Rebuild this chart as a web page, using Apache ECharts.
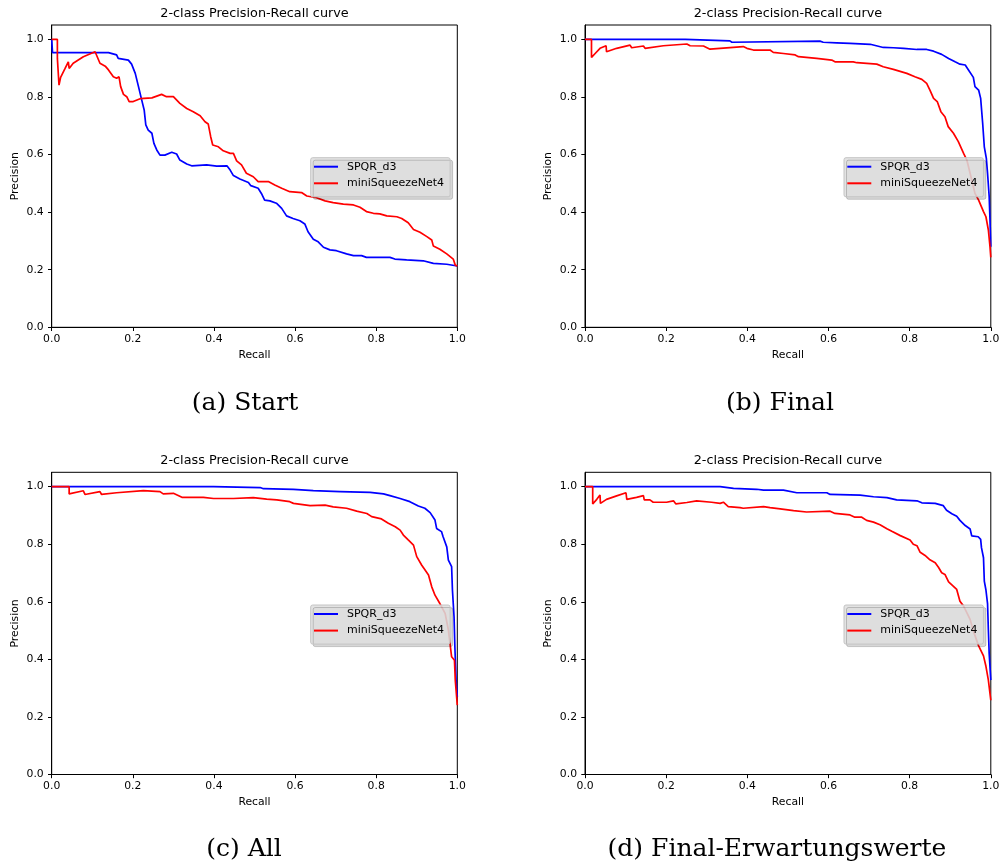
<!DOCTYPE html>
<html>
<head>
<meta charset="utf-8">
<script src="https://cdn.jsdelivr.net/npm/echarts@6/dist/echarts.min.js"></script>
<style>
html,body{margin:0;padding:0;background:#fff;}
#chart{width:1004px;height:867px;}
</style>
</head>
<body>
<div id="chart"></div>
<script>
// ---------- DATA ----------
const seriesNames = ['SPQR_d3', 'miniSqueezeNet4'];
const panelCaptions = ['(a) Start', '(b) Final', '(c) All', '(d) Final-Erwartungswerte'];
const chartTitle = '2-class Precision-Recall curve';
const xTicks = [0, 0.2, 0.4, 0.6, 0.8, 1.0];
const yTicks = [0, 0.2, 0.4, 0.6, 0.8, 1.0];

// (a) Start  [recall, precision]
const spqrStart = [[0,1.0],[0.002,0.954],[0.14,0.954],[0.16,0.946],[0.164,0.934],[0.189,0.928],[0.197,0.914],[0.206,0.882],[0.214,0.836],[0.222,0.789],[0.228,0.755],[0.232,0.703],[0.238,0.685],[0.247,0.674],[0.252,0.639],[0.259,0.616],[0.267,0.598],[0.279,0.598],[0.296,0.608],[0.308,0.602],[0.316,0.581],[0.333,0.567],[0.345,0.561],[0.382,0.564],[0.407,0.560],[0.432,0.561],[0.440,0.546],[0.448,0.527],[0.464,0.515],[0.485,0.503],[0.491,0.492],[0.509,0.483],[0.517,0.465],[0.525,0.442],[0.538,0.439],[0.554,0.431],[0.567,0.413],[0.579,0.387],[0.595,0.378],[0.612,0.370],[0.624,0.359],[0.632,0.332],[0.645,0.306],[0.657,0.297],[0.670,0.278],[0.686,0.269],[0.702,0.266],[0.727,0.255],[0.744,0.249],[0.764,0.249],[0.776,0.243],[0.834,0.243],[0.846,0.237],[0.875,0.234],[0.916,0.231],[0.941,0.222],[0.974,0.219],[1.0,0.213]];
const miniStart = [[0,1.0],[0.014,1.0],[0.014,0.934],[0.018,0.841],[0.022,0.868],[0.033,0.899],[0.041,0.922],[0.043,0.899],[0.053,0.917],[0.078,0.940],[0.107,0.957],[0.111,0.957],[0.119,0.917],[0.132,0.907],[0.140,0.894],[0.152,0.870],[0.160,0.865],[0.166,0.870],[0.170,0.836],[0.177,0.809],[0.185,0.801],[0.191,0.784],[0.201,0.784],[0.218,0.794],[0.247,0.797],[0.271,0.809],[0.283,0.801],[0.300,0.801],[0.316,0.778],[0.333,0.760],[0.349,0.749],[0.366,0.735],[0.378,0.714],[0.386,0.706],[0.392,0.662],[0.397,0.633],[0.411,0.627],[0.423,0.613],[0.440,0.604],[0.448,0.604],[0.456,0.578],[0.468,0.564],[0.480,0.535],[0.497,0.523],[0.509,0.506],[0.534,0.506],[0.550,0.494],[0.567,0.483],[0.587,0.471],[0.616,0.468],[0.629,0.456],[0.653,0.450],[0.674,0.439],[0.694,0.433],[0.719,0.428],[0.744,0.425],[0.760,0.417],[0.776,0.402],[0.793,0.396],[0.809,0.394],[0.826,0.387],[0.851,0.384],[0.863,0.378],[0.879,0.363],[0.892,0.340],[0.908,0.330],[0.925,0.315],[0.937,0.303],[0.941,0.282],[0.957,0.271],[0.974,0.255],[0.990,0.237],[0.995,0.216],[1.0,0.213]];

// (b) Final
const spqrFinal = [[0,1.0],[0.247,1.0],[0.251,0.995],[0.357,0.995],[0.362,0.990],[0.579,0.994],[0.587,0.990],[0.620,0.988],[0.653,0.986],[0.703,0.983],[0.735,0.972],[0.760,0.971],[0.785,0.969],[0.818,0.965],[0.842,0.965],[0.859,0.959],[0.879,0.948],[0.896,0.934],[0.912,0.922],[0.924,0.914],[0.937,0.911],[0.945,0.894],[0.957,0.868],[0.961,0.836],[0.970,0.824],[0.975,0.795],[0.980,0.708],[0.984,0.627],[0.989,0.587],[0.992,0.535],[0.996,0.454],[0.998,0.373],[1.0,0.280]];
const miniFinal = [[0,1.0],[0.016,1.0],[0.016,0.9375],[0.025,0.951],[0.037,0.969],[0.052,0.978],[0.053,0.957],[0.078,0.969],[0.111,0.980],[0.115,0.971],[0.144,0.977],[0.148,0.969],[0.193,0.978],[0.251,0.984],[0.259,0.978],[0.292,0.977],[0.308,0.966],[0.390,0.975],[0.399,0.969],[0.415,0.963],[0.456,0.963],[0.464,0.955],[0.489,0.951],[0.518,0.946],[0.526,0.940],[0.571,0.934],[0.608,0.928],[0.616,0.922],[0.661,0.922],[0.670,0.919],[0.719,0.914],[0.735,0.905],[0.760,0.896],[0.793,0.882],[0.813,0.870],[0.830,0.861],[0.842,0.847],[0.850,0.824],[0.859,0.795],[0.868,0.784],[0.877,0.749],[0.887,0.731],[0.895,0.697],[0.908,0.674],[0.920,0.645],[0.933,0.604],[0.941,0.581],[0.949,0.535],[0.961,0.465],[0.970,0.442],[0.982,0.402],[0.988,0.384],[0.994,0.338],[0.998,0.280],[1.0,0.243]];

// (c) All
const spqrAll = [[0,1.0],[0.399,1.0],[0.403,0.997],[0.514,0.997],[0.522,0.993],[0.596,0.991],[0.645,0.986],[0.711,0.983],[0.785,0.980],[0.818,0.975],[0.834,0.969],[0.859,0.959],[0.883,0.948],[0.904,0.933],[0.920,0.925],[0.933,0.910],[0.945,0.884],[0.949,0.855],[0.961,0.844],[0.965,0.826],[0.974,0.791],[0.978,0.745],[0.986,0.722],[0.988,0.641],[0.992,0.548],[0.994,0.444],[0.997,0.328],[1.0,0.270]];
const miniAll = [[0,1.0],[0.043,1.0],[0.043,0.975],[0.078,0.986],[0.082,0.973],[0.119,0.983],[0.123,0.973],[0.160,0.979],[0.226,0.986],[0.230,0.980],[0.267,0.983],[0.275,0.975],[0.300,0.977],[0.321,0.963],[0.374,0.963],[0.399,0.959],[0.448,0.959],[0.497,0.962],[0.530,0.957],[0.555,0.954],[0.587,0.948],[0.596,0.942],[0.637,0.934],[0.674,0.936],[0.694,0.930],[0.727,0.925],[0.752,0.915],[0.777,0.907],[0.789,0.896],[0.813,0.888],[0.830,0.873],[0.847,0.861],[0.859,0.849],[0.867,0.832],[0.879,0.815],[0.892,0.797],[0.900,0.757],[0.912,0.728],[0.929,0.693],[0.937,0.652],[0.945,0.623],[0.957,0.594],[0.970,0.560],[0.978,0.502],[0.986,0.409],[0.993,0.397],[0.995,0.328],[1.0,0.241]];

// (d) Final-Erwartungswerte
const spqrExp = [[0,1.0],[0.333,1.0],[0.337,0.997],[0.366,0.994],[0.423,0.991],[0.440,0.988],[0.489,0.988],[0.493,0.983],[0.522,0.979],[0.596,0.979],[0.604,0.973],[0.678,0.971],[0.711,0.965],[0.744,0.962],[0.768,0.954],[0.818,0.951],[0.830,0.944],[0.863,0.942],[0.883,0.934],[0.891,0.918],[0.904,0.906],[0.916,0.897],[0.924,0.883],[0.937,0.865],[0.949,0.853],[0.953,0.829],[0.969,0.826],[0.975,0.817],[0.977,0.788],[0.982,0.753],[0.984,0.672],[0.988,0.641],[0.992,0.594],[0.994,0.502],[0.996,0.421],[1.0,0.328]];
const miniExp = [[0,1.0],[0.019,1.0],[0.019,0.940],[0.029,0.956],[0.037,0.971],[0.038,0.942],[0.053,0.956],[0.078,0.968],[0.101,0.979],[0.103,0.956],[0.127,0.963],[0.144,0.969],[0.146,0.954],[0.160,0.954],[0.168,0.946],[0.201,0.946],[0.218,0.951],[0.224,0.940],[0.251,0.945],[0.275,0.951],[0.312,0.946],[0.333,0.942],[0.341,0.946],[0.353,0.931],[0.382,0.927],[0.390,0.925],[0.440,0.931],[0.456,0.927],[0.481,0.923],[0.514,0.917],[0.546,0.912],[0.604,0.915],[0.616,0.907],[0.653,0.902],[0.665,0.894],[0.682,0.894],[0.694,0.883],[0.711,0.877],[0.727,0.868],[0.744,0.854],[0.756,0.845],[0.777,0.830],[0.801,0.815],[0.809,0.800],[0.818,0.795],[0.826,0.772],[0.838,0.761],[0.850,0.746],[0.863,0.736],[0.871,0.720],[0.879,0.701],[0.887,0.695],[0.896,0.669],[0.908,0.654],[0.916,0.643],[0.924,0.602],[0.933,0.585],[0.949,0.539],[0.957,0.499],[0.970,0.447],[0.982,0.412],[0.988,0.376],[0.994,0.328],[1.0,0.258]];

const panelData = [[spqrStart, miniStart], [spqrFinal, miniFinal], [spqrAll, miniAll], [spqrExp, miniExp]];

// ---------- LAYOUT ----------
const colors = ['#0000ff', '#ff0000'];
const SANS = 'DejaVu Sans';
const grids = [
  {left: 51.7, top: 25, width: 405.6, height: 302.3},
  {left: 585, top: 25, width: 405.8, height: 302.3},
  {left: 51.7, top: 472.3, width: 405.6, height: 302.2},
  {left: 585, top: 472.3, width: 405.8, height: 302.2}
];
const captionPos = [[245, 403], [780, 403], [244, 849], [777, 849]];

const chart = echarts.init(document.getElementById('chart'), null, {renderer: 'canvas'});

const option = {
  animation: false,
  backgroundColor: '#ffffff',
  grid: grids.map(g => Object.assign({show: true, borderColor: '#000', borderWidth: 1, backgroundColor: 'transparent', containLabel: false}, g)),
  xAxis: grids.map((g, i) => ({
    type: 'value', gridIndex: i, min: 0, max: 1, interval: 0.2,
    name: 'Recall', nameLocation: 'middle', nameGap: 22,
    nameTextStyle: {fontFamily: SANS, fontSize: 10.8, color: '#000'},
    axisLine: {show: true, lineStyle: {color: '#000', width: 1}},
    axisTick: {show: true, length: 3.7, inside: false, lineStyle: {color: '#000', width: 1}},
    axisLabel: {show: true, margin: 6, fontFamily: SANS, fontSize: 10.8, color: '#000', formatter: v => v.toFixed(1)},
    splitLine: {show: false}
  })),
  yAxis: grids.map((g, i) => ({
    type: 'value', gridIndex: i, min: 0, max: 1.05,
    name: 'Precision', nameLocation: 'middle', nameGap: 31, nameRotate: 90,
    nameTextStyle: {fontFamily: SANS, fontSize: 10.8, color: '#000'},
    axisLine: {show: true, lineStyle: {color: '#000', width: 1}},
    axisTick: {show: true, length: 3.7, inside: false, customValues: yTicks, lineStyle: {color: '#000', width: 1}},
    axisLabel: {show: true, margin: 8, fontFamily: SANS, fontSize: 10.8, color: '#000', customValues: yTicks, formatter: v => v.toFixed(1)},
    splitLine: {show: false}
  })),
  legend: grids.map((g, i) => ({
    orient: 'vertical',
    left: i % 2 === 0 ? 310.7 : 844,
    top: i < 2 ? 157.7 : 605,
    data: seriesNames.map(n => ({name: n, icon: 'rect'})),
    itemWidth: 24, itemHeight: 2, itemGap: 5.6,
    padding: [3.5, 6, 8, 3.3],
    backgroundColor: 'rgba(222,222,222,0.86)',
    borderColor: '#c4c4c4', borderWidth: 1, borderRadius: 2,
    shadowColor: 'rgba(0,0,0,0.18)', shadowBlur: 0, shadowOffsetX: 2.5, shadowOffsetY: 2.5,
    selectedMode: false,
    textStyle: {fontFamily: SANS, fontSize: 11, color: '#000', padding: [0, 0, 0, 4]}
  })),
  series: [],
  graphic: []
};

panelData.forEach((pair, i) => {
  pair.forEach((data, k) => {
    option.series.push({
      type: 'line', name: seriesNames[k], xAxisIndex: i, yAxisIndex: i,
      data: data, showSymbol: false, symbol: 'none',
      lineStyle: {color: colors[k], width: 1.7}, itemStyle: {color: colors[k]},
      z: 2, clip: false
    });
  });
  const g = grids[i];
  option.graphic.push({
    type: 'text',
    x: g.left + g.width / 2, y: i < 2 ? 14 : 460.7,
    style: {text: chartTitle, font: '12.8px "DejaVu Sans"', fill: '#000', align: 'center', verticalAlign: 'middle'}
  });
  option.graphic.push({
    type: 'text',
    x: captionPos[i][0], y: captionPos[i][1],
    style: {text: panelCaptions[i], font: '25px "DejaVu Serif"', fill: '#000', align: 'center', verticalAlign: 'middle'}
  });
});

chart.setOption(option);
</script>
</body>
</html>
